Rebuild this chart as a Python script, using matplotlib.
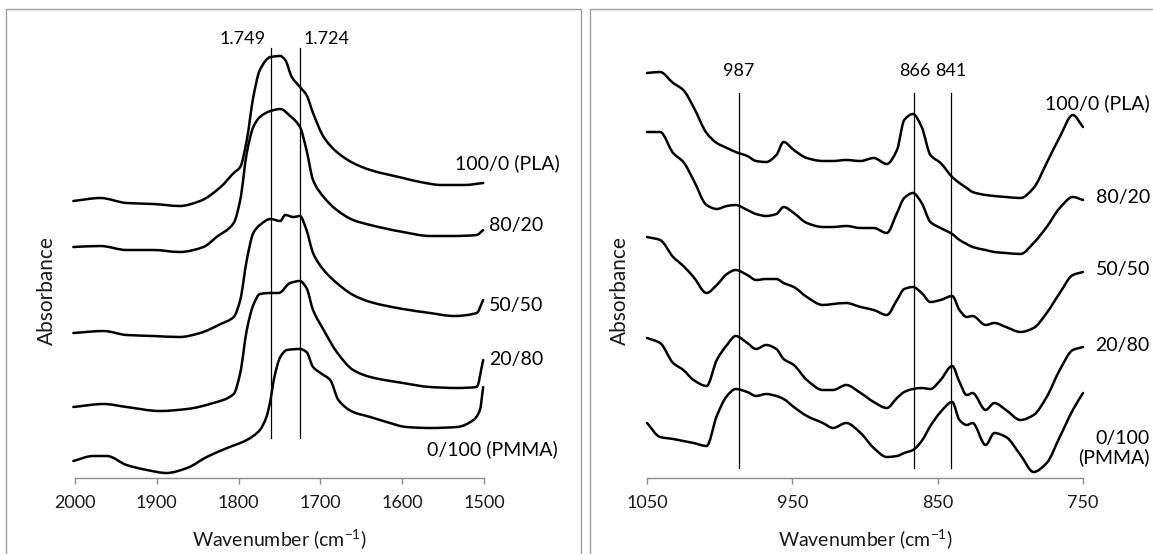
import matplotlib

matplotlib.use("Agg")
import matplotlib.patches as patches
import matplotlib.pyplot as plt
import numpy as np
from matplotlib.path import Path

plt.rcParams.update(
    {
        "font.family": ["Lato", "DejaVu Sans"],
        "mathtext.fontset": "custom",
        "mathtext.rm": "Lato",
        "mathtext.it": "Lato",
        "figure.dpi": 100,
        "savefig.dpi": 100,
    }
)

# ---- left panel: carbonyl region (wavenumber, absorbance in stacked offset units)
carb_labels = ["100/0 (PLA)", "80/20", "50/50", "20/80", "0/100 (PMMA)"]
carb_wn = [
    [2002, 1969, 1937, 1904, 1872, 1847, 1822, 1806, 1798, 1790, 1782, 1774, 1761, 1749,
     1743, 1735, 1725, 1717, 1709, 1696, 1680, 1660, 1639, 1599, 1578, 1552, 1524, 1501],
    [2002, 1969, 1937, 1904, 1872, 1843, 1827, 1806, 1798, 1790, 1782, 1774, 1761, 1749,
     1737, 1725, 1717, 1709, 1696, 1680, 1660, 1639, 1599, 1566, 1537, 1509, 1501],
    [2002, 1965, 1937, 1904, 1872, 1847, 1822, 1806, 1798, 1790, 1782, 1774, 1761, 1749,
     1743, 1733, 1725, 1717, 1709, 1696, 1680, 1660, 1639, 1599, 1566, 1537, 1509, 1501],
    [2002, 1965, 1937, 1896, 1863, 1831, 1806, 1798, 1790, 1782, 1774, 1761, 1751,
     1737, 1725, 1717, 1709, 1696, 1680, 1660, 1639, 1599, 1566, 1533, 1509, 1501],
    [2002, 1978, 1961, 1937, 1912, 1888, 1863, 1839, 1814, 1790, 1774, 1766, 1761, 1757,
     1749, 1741, 1725, 1717, 1709, 1700, 1688, 1678, 1660, 1639, 1619, 1595, 1566,
     1533, 1513, 1505, 1501],
]
carb_abs = [
    [2.77, 2.80, 2.75, 2.74, 2.72, 2.77, 2.91, 3.05, 3.11, 3.38, 3.81, 4.08, 4.21, 4.22,
     4.18, 4.01, 3.91, 3.83, 3.65, 3.41, 3.26, 3.15, 3.08, 3.00, 2.96, 2.93, 2.93, 2.95],
    [2.31, 2.32, 2.28, 2.28, 2.26, 2.31, 2.41, 2.55, 2.78, 3.25, 3.51, 3.61, 3.67, 3.69,
     3.62, 3.51, 3.28, 2.98, 2.81, 2.68, 2.58, 2.53, 2.46, 2.42, 2.42, 2.43, 2.48],
    [1.45, 1.47, 1.43, 1.42, 1.41, 1.45, 1.54, 1.61, 1.78, 2.18, 2.45, 2.53, 2.59, 2.57,
     2.63, 2.61, 2.62, 2.48, 2.25, 2.08, 1.95, 1.83, 1.76, 1.69, 1.65, 1.62, 1.65, 1.78],
    [0.71, 0.74, 0.71, 0.67, 0.69, 0.75, 0.84, 1.05, 1.48, 1.73, 1.84, 1.85, 1.85,
     1.95, 1.97, 1.90, 1.68, 1.48, 1.26, 1.08, 1.01, 0.95, 0.91, 0.90, 0.91, 1.18],
    [0.17, 0.22, 0.22, 0.13, 0.08, 0.05, 0.10, 0.21, 0.30, 0.38, 0.48, 0.61, 0.78, 0.98,
     1.21, 1.28, 1.29, 1.26, 1.11, 1.05, 0.98, 0.78, 0.66, 0.61, 0.56, 0.51, 0.50,
     0.51, 0.58, 0.68, 0.91],
]
carb_marks = [1760, 1725]
carb_mark_text = ["1.749", "1.724"]

# ---- right panel: fingerprint region
fp_labels = ["100/0 (PLA)", "80/20", "50/50", "20/80", "0/100\n(PMMA)"]
fp_wn_a = [1050, 1041, 1032, 1025, 1018, 1009, 1002, 995, 989, 981, 975, 968, 961, 956,
           949, 940, 929, 922, 913, 903]
fp_wn_b = [894, 885, 878, 873, 867, 861, 855, 848, 840, 835, 830, 826, 817, 811, 803,
           793, 784, 775, 766, 757, 750]
fp_abs = [
    [4.05, 4.06, 3.95, 3.88, 3.71, 3.45, 3.35, 3.30, 3.26, 3.22, 3.17, 3.16, 3.23, 3.36,
     3.28, 3.20, 3.17, 3.17, 3.18, 3.17,
     3.20, 3.14, 3.28, 3.58, 3.64, 3.51, 3.23, 3.15, 3.01, 2.95, 2.90, 2.86, 2.83, 2.82,
     2.81, 2.80, 2.90, 3.15, 3.41, 3.63, 3.51],
    [3.46, 3.46, 3.25, 3.16, 2.98, 2.73, 2.69, 2.72, 2.73, 2.68, 2.64, 2.62, 2.64, 2.71,
     2.65, 2.55, 2.51, 2.51, 2.52, 2.50,
     2.50, 2.45, 2.65, 2.80, 2.85, 2.75, 2.56, 2.50, 2.44, 2.38, 2.34, 2.31, 2.28, 2.26,
     2.25, 2.24, 2.35, 2.51, 2.70, 2.81, 2.78],
    [2.41, 2.38, 2.21, 2.12, 2.01, 1.85, 1.93, 2.04, 2.08, 2.03, 1.98, 1.99, 1.99, 1.95,
     1.91, 1.81, 1.73, 1.74, 1.75, 1.71,
     1.68, 1.63, 1.78, 1.89, 1.91, 1.85, 1.76, 1.78, 1.82, 1.68, 1.61, 1.62, 1.53, 1.55,
     1.51, 1.46, 1.50, 1.65, 1.85, 2.03, 2.06],
    [1.40, 1.35, 1.15, 1.08, 0.98, 0.92, 1.18, 1.33, 1.42, 1.35, 1.29, 1.33, 1.29, 1.19,
     1.13, 0.98, 0.88, 0.88, 0.93, 0.85,
     0.76, 0.70, 0.80, 0.86, 0.89, 0.90, 0.89, 0.98, 1.12, 0.96, 0.83, 0.85, 0.68, 0.75,
     0.68, 0.58, 0.63, 0.81, 1.08, 1.28, 1.31],
    [0.55, 0.41, 0.39, 0.37, 0.35, 0.32, 0.62, 0.82, 0.89, 0.86, 0.82, 0.84, 0.82, 0.79,
     0.71, 0.62, 0.55, 0.50, 0.55, 0.45,
     0.30, 0.21, 0.22, 0.25, 0.28, 0.37, 0.52, 0.66, 0.76, 0.58, 0.53, 0.55, 0.33, 0.45,
     0.41, 0.23, 0.06, 0.15, 0.41, 0.68, 0.85],
]
fp_marks = [987, 866, 841]

GRAY = "#8c8c8c"
FS = 14
NUM_FS = 13


def smooth_path(x, y):
    # Excel-style smoothed line: cubic Bezier segments through the read points
    x = np.asarray(x, float)
    y = np.asarray(y, float)
    h = np.diff(x)
    d = np.diff(y) / h
    m = np.zeros_like(y)
    m[0], m[-1] = d[0], d[-1]
    for k in range(1, len(x) - 1):
        if d[k - 1] * d[k] <= 0:
            m[k] = 0.0
        else:
            w1 = 2 * h[k] + h[k - 1]
            w2 = h[k] + 2 * h[k - 1]
            m[k] = (w1 + w2) / (w1 / d[k - 1] + w2 / d[k])
    verts = [(x[0], y[0])]
    codes = [Path.MOVETO]
    for i in range(len(x) - 1):
        verts += [
            (x[i] + h[i] / 3, y[i] + m[i] * h[i] / 3),
            (x[i + 1] - h[i] / 3, y[i + 1] - m[i + 1] * h[i] / 3),
            (x[i + 1], y[i + 1]),
        ]
        codes += [Path.CURVE4] * 3
    return Path(verts, codes)


def draw_curve(ax, x, y):
    patch = patches.PathPatch(smooth_path(x, y), transform=ax.transData, facecolor="none",
                              edgecolor="black", linewidth=1.8, joinstyle="round",
                              capstyle="round", clip_on=False)
    ax.add_patch(patch)


def style_axis(ax, xlim, ticks):
    ax.set_xlim(*xlim)
    ax.set_ylim(0, 4.58)
    ax.set_xticks(ticks)
    ax.set_yticks([])
    for side in ("top", "right", "left"):
        ax.spines[side].set_visible(False)
    ax.spines["bottom"].set_color(GRAY)
    ax.spines["bottom"].set_linewidth(1.0)
    ax.tick_params(axis="x", direction="out", length=4.5, width=1.0, color=GRAY,
                   labelsize=NUM_FS, pad=8, labelcolor="#1a1a1a")
    ax.set_xlabel("Wavenumber (cm$^{-1}$)", fontsize=FS, color="#1a1a1a", labelpad=11)
    ax.set_ylabel("Absorbance", fontsize=15, color="#1a1a1a")
    ax.patch.set_alpha(0)


fig = plt.figure(figsize=(11.53, 5.54), facecolor="white")

# panel frames
fig.add_artist(patches.Rectangle((5.5 / 1153, -0.05), (581 - 5.5) / 1153, 1.05 - 8.5 / 554,
                                 transform=fig.transFigure, facecolor="none",
                                 edgecolor="#a0a0a0", linewidth=1.0))
fig.add_artist(patches.Rectangle((590 / 1153, -0.05), 0.6, 1.05 - 8.5 / 554,
                                 transform=fig.transFigure, facecolor="none",
                                 edgecolor="#a0a0a0", linewidth=1.0))

bottom = (554 - 478) / 554
height = 458 / 554

# left panel
ax1 = fig.add_axes([75 / 1153, bottom, (484 - 75) / 1153, height])
style_axis(ax1, (2000, 1500), [2000, 1900, 1800, 1700, 1600, 1500])
ax1.yaxis.set_label_coords(-0.043, 0.41)
for wn, ab in zip(carb_wn, carb_abs):
    draw_curve(ax1, wn, ab)
for pos in carb_marks:
    ax1.plot([pos, pos], [0.40, 4.30], color="black", lw=0.9)
ax1.text(carb_marks[0] + 7, 4.39, carb_mark_text[0], ha="right", va="center",
         fontsize=NUM_FS)
ax1.text(carb_marks[1] - 4, 4.39, carb_mark_text[1], ha="left", va="center",
         fontsize=NUM_FS)
carb_label_pos = [(1535, 3.15), (1494, 2.53), (1494, 1.73), (1494, 1.19), (1570, 0.29)]
for text, (x, y) in zip(carb_labels, carb_label_pos):
    ax1.text(x, y, text, ha="left", va="center", fontsize=FS, clip_on=False)

# right panel
ax2 = fig.add_axes([647 / 1153, bottom, (1083 - 647) / 1153, height])
style_axis(ax2, (1050, 750), [1050, 950, 850, 750])
ax2.yaxis.set_label_coords(-0.038, 0.41)
for ab in fp_abs:
    draw_curve(ax2, fp_wn_a + fp_wn_b, ab)
for pos in fp_marks:
    ax2.plot([pos, pos], [0.10, 3.85], color="black", lw=0.9)
    ax2.text(pos, 4.07, str(pos), ha="center", va="center", fontsize=NUM_FS)
fp_label_pos = [3.75, 2.81, 2.09, 1.33, 0.30]
for text, y in zip(fp_labels, fp_label_pos):
    ax2.text(704, y, text, ha="right", va="center", fontsize=FS, clip_on=False,
             linespacing=1.1)

fig.savefig("out.png", facecolor=fig.get_facecolor())
plt.close(fig)
